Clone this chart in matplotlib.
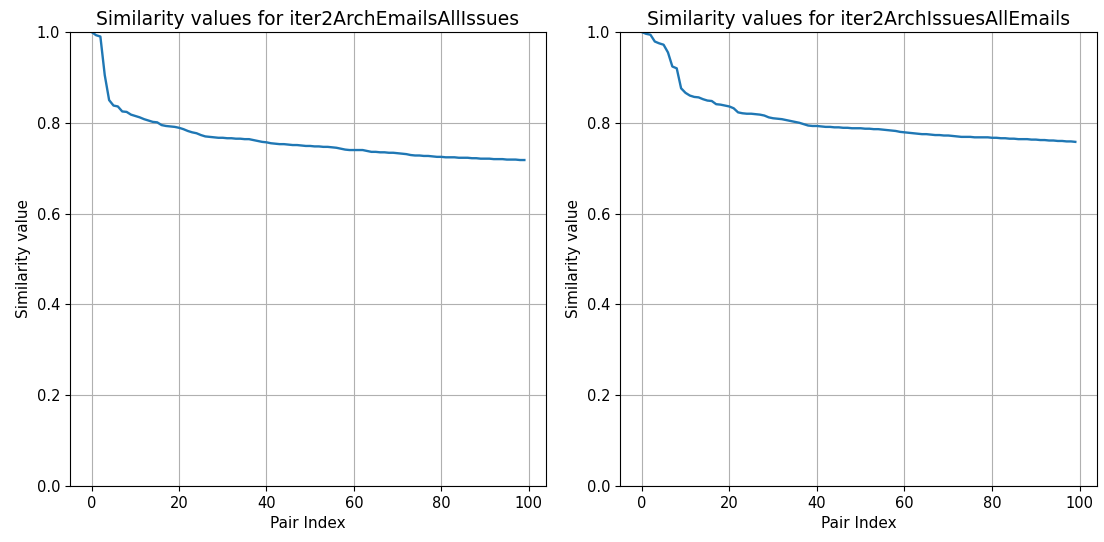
import matplotlib
matplotlib.use("Agg")
import matplotlib.pyplot as plt

# Valores de similitud
titles = ["iter2ArchEmailsAllIssues", "iter2ArchIssuesAllEmails"]

sim_emails_issues = [
    1.000, 0.993, 0.990, 0.905, 0.850, 0.838, 0.836, 0.825, 0.824, 0.818,
    0.815, 0.812, 0.808, 0.805, 0.802, 0.801, 0.795, 0.793, 0.792, 0.791,
    0.789, 0.786, 0.782, 0.779, 0.777, 0.773, 0.770, 0.769, 0.768, 0.767,
    0.767, 0.766, 0.766, 0.765, 0.765, 0.764, 0.764, 0.762, 0.760, 0.758,
    0.757, 0.755, 0.754, 0.753, 0.753, 0.752, 0.751, 0.751, 0.750, 0.749,
    0.749, 0.748, 0.748, 0.747, 0.747, 0.746, 0.745, 0.743, 0.741, 0.740,
    0.740, 0.740, 0.740, 0.738, 0.736, 0.736, 0.735, 0.735, 0.734, 0.734,
    0.733, 0.732, 0.731, 0.729, 0.728, 0.728, 0.727, 0.727, 0.726, 0.725,
    0.725, 0.724, 0.724, 0.724, 0.723, 0.723, 0.723, 0.722, 0.722, 0.721,
    0.721, 0.721, 0.720, 0.720, 0.720, 0.719, 0.719, 0.719, 0.718, 0.718,
]

sim_issues_emails = [
    1.000, 0.996, 0.994, 0.979, 0.975, 0.972, 0.955, 0.924, 0.920, 0.876,
    0.866, 0.860, 0.857, 0.856, 0.852, 0.849, 0.848, 0.841, 0.840, 0.838,
    0.836, 0.832, 0.823, 0.821, 0.820, 0.820, 0.819, 0.818, 0.816, 0.812,
    0.810, 0.809, 0.808, 0.806, 0.804, 0.802, 0.800, 0.797, 0.794, 0.793,
    0.793, 0.792, 0.791, 0.791, 0.790, 0.790, 0.789, 0.789, 0.788, 0.788,
    0.788, 0.787, 0.787, 0.786, 0.786, 0.785, 0.784, 0.783, 0.782, 0.780,
    0.779, 0.778, 0.777, 0.776, 0.775, 0.775, 0.774, 0.773, 0.773, 0.772,
    0.772, 0.771, 0.770, 0.769, 0.769, 0.769, 0.768, 0.768, 0.768, 0.768,
    0.767, 0.767, 0.766, 0.766, 0.765, 0.765, 0.764, 0.764, 0.764, 0.763,
    0.763, 0.762, 0.762, 0.761, 0.761, 0.760, 0.760, 0.759, 0.759, 0.758,
]

series = [sim_emails_issues, sim_issues_emails]

fig = plt.figure(figsize=(11.04, 5.42), dpi=100)
W, H = 1104, 542
axes = [
    fig.add_axes([70 / W, (H - 486) / H, 476 / W, 454 / H]),
    fig.add_axes([620 / W, (H - 486) / H, 477 / W, 454 / H]),
]

for ax, name, vals in zip(axes, titles, series):
    ax.plot(range(len(vals)), vals, linewidth=1.7)
    ax.set_title("Similarity values for " + name, fontsize=13.5, pad=5)
    ax.set_xlabel("Pair Index", fontsize=11)
    ax.set_ylabel("Similarity value", fontsize=11)
    ax.tick_params(labelsize=10.5)
    ax.set_ylim(0, 1)
    ax.grid(True)

fig.savefig("out.png", dpi=100)
